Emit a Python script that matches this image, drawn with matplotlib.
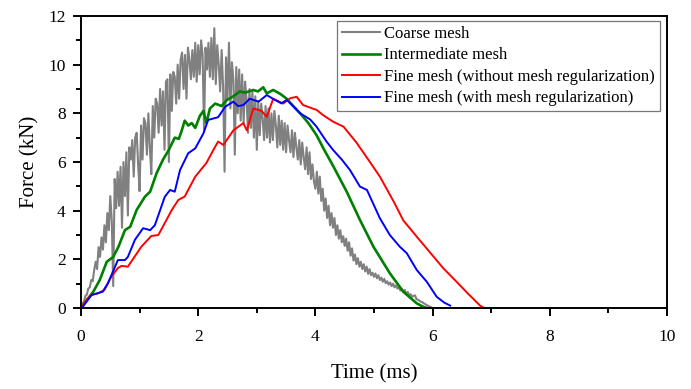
import matplotlib
matplotlib.use("Agg")
import matplotlib.pyplot as plt
from matplotlib.ticker import MultipleLocator

# ---------------- data ----------------
coarse_dt = 0.025
coarse_force = [
    0.0, 0.2, 0.25, 0.5, 0.55, 0.8, 0.85, 1.15, 1.1, 1.55,
    1.9, 1.6, 2.5, 2.1, 2.9, 2.4, 3.4, 2.7, 3.9, 3.2,
    4.6, 3.6, 0.9, 5.3, 4.1, 5.6, 4.2, 5.8, 3.3, 6.0,
    4.6, 6.4, 3.8, 6.6, 6.1, 6.9, 5.4, 7.0, 7.2, 5.9,
    4.8, 7.5, 6.1, 7.8, 7.6, 6.3, 8.0, 6.6, 5.5, 8.3,
    7.0, 8.6, 8.4, 7.2, 9.0, 7.5, 8.9, 6.5, 9.3, 9.4,
    6.0, 9.6, 8.1, 9.7, 9.5, 8.4, 10.0, 8.6, 10.2, 10.5,
    9.0, 10.4, 8.6, 10.7, 10.2, 9.4, 10.6, 9.5, 10.9, 9.3,
    10.8, 9.6, 11.0, 10.4, 7.3, 10.7, 9.8, 10.9, 9.5, 11.1,
    9.4, 11.5, 9.2, 10.8, 10.0, 8.9, 10.6, 9.1, 5.6, 10.3,
    8.6, 10.9, 8.2, 10.1, 9.4, 6.3, 9.9, 8.0, 9.8, 7.7,
    9.6, 7.6, 9.3, 8.6, 7.2, 9.0, 7.4, 8.9, 7.0, 8.7,
    6.5, 8.5, 7.1, 8.4, 7.8, 6.9, 8.3, 7.0, 8.2, 6.8,
    8.0, 6.9, 8.1, 7.5, 6.6, 7.9, 6.7, 7.7, 6.5, 7.6,
    6.4, 7.5, 6.9, 6.4, 7.3, 6.2, 7.2, 6.6, 6.1, 6.9,
    5.9, 6.8, 6.2, 5.7, 6.6, 5.5, 6.4, 5.3, 5.9, 5.2,
    4.9, 5.6, 4.7, 5.4, 4.4, 4.9, 4.0, 4.5, 3.7, 4.2,
    3.4, 3.9, 3.3, 3.7, 3.0, 3.4, 2.85, 3.2, 2.7, 2.95,
    2.55, 2.85, 2.35, 2.7, 2.15, 2.45, 1.95, 2.2, 1.8, 2.05,
    1.7, 1.9, 1.6, 1.8, 1.5, 1.7, 1.4, 1.6, 1.35, 1.45,
    1.28, 1.42, 1.22, 1.35, 1.15, 1.25, 1.08, 1.2, 1.02, 1.1,
    0.96, 1.05, 0.9, 1.0, 0.85, 0.93, 0.8, 0.86, 0.72, 0.78,
    0.66, 0.74, 0.58, 0.66, 0.52, 0.57, 0.46, 0.5, 0.52, 0.36,
    0.34, 0.3, 0.26, 0.24, 0.19, 0.16, 0.12, 0.09, 0.06, 0.03,
    0.0,
]
coarse_time = [i * coarse_dt for i in range(len(coarse_force))]

inter_time = [0, 0.1, 0.21, 0.32, 0.44, 0.55, 0.64, 0.75, 0.84, 0.95, 1.09, 1.18,
              1.29, 1.4, 1.5, 1.6, 1.67, 1.72, 1.77, 1.83, 1.89, 1.95, 2.03, 2.09,
              2.14, 2.2, 2.29, 2.4, 2.49, 2.6, 2.71, 2.8, 2.94, 3.02, 3.11, 3.17,
              3.28, 3.4, 3.51, 3.62, 3.74, 3.88, 4.02, 4.15, 4.3, 4.53, 4.76, 4.99,
              5.27, 5.5, 5.73, 5.84, 5.9]
inter_force = [0, 0.33, 0.67, 1.15, 1.9, 2.1, 2.52, 3.2, 3.34, 4.03, 4.57, 4.78,
               5.54, 6.1, 6.5, 7.0, 6.95, 7.3, 7.7, 7.5, 7.6, 7.4, 7.9, 8.1,
               7.6, 8.2, 8.4, 8.3, 8.55, 8.7, 8.9, 8.85, 8.96, 8.9, 9.07, 8.82,
               8.96, 8.8, 8.6, 8.3, 8.0, 7.6, 7.1, 6.5, 5.85, 4.8, 3.62, 2.52,
               1.43, 0.67, 0.19, 0.05, 0.0]

fine_time = [0, 0.1, 0.18, 0.29, 0.4, 0.52, 0.63, 0.69, 0.8, 1.03, 1.2, 1.32,
             1.55, 1.66, 1.77, 1.95, 2.14, 2.26, 2.34, 2.43, 2.6, 2.77, 2.83,
             2.94, 3.08, 3.17, 3.28, 3.45, 3.57, 3.68, 3.79, 4.02, 4.13, 4.3,
             4.48, 4.7, 4.93, 5.1, 5.33, 5.5, 5.73, 5.95, 6.18, 6.4, 6.6, 6.81, 6.88]
fine_force = [0, 0.35, 0.55, 0.6, 0.74, 1.3, 1.64, 1.73, 1.7, 2.52, 2.96, 3.0,
              4.03, 4.44, 4.58, 5.4, 5.96, 6.5, 6.84, 6.7, 7.3, 7.6, 7.3,
              8.2, 8.1, 7.86, 8.6, 8.4, 8.62, 8.68, 8.34, 8.14, 7.93, 7.66,
              7.45, 6.8, 6.0, 5.4, 4.4, 3.6, 2.93, 2.3, 1.64, 1.1, 0.6, 0.1, 0.0]

reg_time = [0, 0.03, 0.18, 0.37, 0.46, 0.63, 0.75, 0.8, 0.92, 1.06, 1.18, 1.26,
            1.43, 1.52, 1.6, 1.69, 1.83, 1.95, 2.09, 2.17, 2.34, 2.46, 2.6, 2.68,
            2.77, 2.88, 3.03, 3.17, 3.31, 3.42, 3.51, 3.62, 3.74, 3.91, 4.02,
            4.19, 4.3, 4.45, 4.59, 4.76, 4.88, 5.1, 5.27, 5.44, 5.56, 5.73, 5.9,
            6.07, 6.2, 6.3]
reg_force = [0, 0.05, 0.53, 0.67, 1.02, 1.97, 1.97, 2.1, 2.8, 3.28, 3.2, 3.4,
             4.57, 4.85, 4.78, 5.67, 6.36, 6.56, 7.18, 7.73, 7.84, 8.27, 8.48, 8.3,
             8.34, 8.6, 8.48, 8.75, 8.55, 8.41, 8.55, 8.3, 8.0, 7.75, 7.45,
             6.84, 6.5, 6.1, 5.67, 4.99, 4.85, 3.69, 3.0, 2.52, 2.25, 1.56, 1.08,
             0.46, 0.22, 0.1]

labels = ["Coarse mesh", "Intermediate mesh",
          "Fine mesh (without mesh regularization)",
          "Fine mesh (with mesh regularization)"]

# ---------------- plot ----------------
plt.rcParams['font.family'] = ['Liberation Serif', 'DejaVu Serif']
fig = plt.figure(figsize=(6.91, 3.89), dpi=100)
ax = fig.add_axes([0.1172, 0.2082, 0.8481, 0.7507])

ax.plot(coarse_time, coarse_force, color='#808080', lw=1.5, label=labels[0])
ax.plot(inter_time, inter_force, color='#008000', lw=1.9, label=labels[1])
ax.plot(fine_time, fine_force, color='#ff0000', lw=1.4, label=labels[2])
ax.plot(reg_time, reg_force, color='#0000ff', lw=1.4, label=labels[3])

ax.set_xlim(0, 10)
ax.set_ylim(0, 12)
ax.xaxis.set_major_locator(MultipleLocator(2))
ax.xaxis.set_minor_locator(MultipleLocator(1))
ax.yaxis.set_major_locator(MultipleLocator(2))
ax.yaxis.set_minor_locator(MultipleLocator(1))
ax.tick_params(which='major', direction='out', length=6, width=1.4, labelsize=12.5)
ax.tick_params(axis='x', which='major', pad=9)
ax.tick_params(axis='y', which='major', pad=5)
ax.tick_params(which='minor', direction='out', length=3.5, width=1.4)
for s in ax.spines.values():
    s.set_linewidth(1.4)

ax.set_xlabel("Time (ms)", fontsize=15, labelpad=14)
ax.set_ylabel("Force (kN)", fontsize=15, labelpad=6)

leg = ax.legend(loc='upper right', bbox_to_anchor=(0.988, 0.983), fontsize=12,
                frameon=True, fancybox=False, edgecolor='#555555',
                handlelength=2.3, handletextpad=0.25, labelspacing=0.33,
                borderpad=0.3, borderaxespad=0.0)
leg.get_frame().set_linewidth(0.9)

fig.savefig("out.png", dpi=100)
